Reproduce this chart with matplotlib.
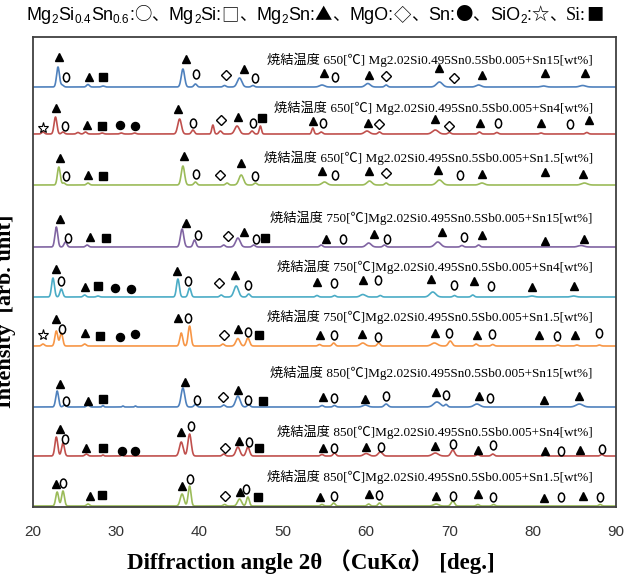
import numpy as np
import matplotlib.pyplot as plt
from matplotlib.path import Path
import matplotlib.transforms as mtrans

plt.rcParams['font.family'] = ['Liberation Serif', 'Noto Sans CJK JP', 'DejaVu Sans']

two_theta = np.linspace(20, 90, 3501)

# one entry per pattern, top to bottom
labels = [
    "焼結温度 650[℃] Mg2.02Si0.495Sn0.5Sb0.005+Sn15[wt%]",
    "焼結温度 650[℃] Mg2.02Si0.495Sn0.5Sb0.005+Sn4[wt%]",
    "焼結温度 650[℃] Mg2.02Si0.495Sn0.5Sb0.005+Sn1.5[wt%]",
    "焼結温度 750[℃]Mg2.02Si0.495Sn0.5Sb0.005+Sn15[wt%]",
    "焼結温度 750[℃]Mg2.02Si0.495Sn0.5Sb0.005+Sn4[wt%]",
    "焼結温度 750[℃]Mg2.02Si0.495Sn0.5Sb0.005+Sn1.5[wt%]",
    "焼結温度 850[℃]Mg2.02Si0.495Sn0.5Sb0.005+Sn15[wt%]",
    "焼結温度 850[℃]Mg2.02Si0.495Sn0.5Sb0.005+Sn4[wt%]",
    "焼結温度 850[℃]Mg2.02Si0.495Sn0.5Sb0.005+Sn1.5[wt%]",
]

# peaks: (2θ, intensity[, width])
peaks_650_sn15 = [(23.0, 20), (23.5, 2), (26.6, 2.5), (28.4, 1), (38.0, 18, 0.2), (39.5, 3),
                  (43.0, 1.5), (44.8, 9, 0.27), (46.4, 1.5), (54.7, 2, 0.3), (60.2, 3.5, 0.3),
                  (62.4, 2), (68.8, 5, 0.35), (73.5, 2, 0.3), (81.3, 1, 0.3), (86.0, 1.5, 0.35)]
peaks_650_sn4 = [(21.2, 2), (22.7, 17), (23.6, 2), (25.4, 1.5), (26.3, 2), (28.3, 1), (30.6, 1),
                 (32.2, 1), (37.6, 15, 0.22), (39.2, 4), (41.6, 9, 0.13), (42.5, 3), (44.5, 8, 0.27),
                 (46.3, 3), (47.3, 8, 0.13), (53.6, 6, 0.13), (54.6, 2), (60.1, 3, 0.3), (61.6, 2),
                 (68.3, 4, 0.35), (70.0, 1.5), (73.6, 2), (75.7, 1.5), (81.0, 1), (86.5, 1.5)]
peaks_650_sn1_5 = [(23.1, 18), (23.7, 2), (26.6, 2), (38.0, 19, 0.2), (39.5, 3), (43.3, 2),
                   (45.0, 10, 0.27), (46.7, 2), (55.0, 3, 0.3), (60.4, 4, 0.3), (62.4, 2),
                   (68.8, 5, 0.35), (73.9, 2, 0.3), (86.2, 2, 0.35)]
peaks_750_sn15 = [(22.8, 20), (23.9, 5), (26.5, 2), (37.9, 18, 0.2), (39.4, 7), (42.9, 2),
                  (44.6, 9, 0.27), (46.5, 2), (54.6, 2), (60.3, 4, 0.3), (62.2, 2), (68.6, 5, 0.35),
                  (71.5, 1.5), (73.5, 2), (85.8, 1.5, 0.35)]
peaks_750_sn4 = [(22.4, 19), (23.4, 8), (26.2, 2), (27.8, 1), (37.4, 18), (38.8, 9), (42.6, 2),
                 (44.4, 11, 0.27), (45.9, 3), (54.1, 1.5), (56.2, 1.5), (59.6, 2.5, 0.3), (61.7, 1.5),
                 (68.0, 5, 0.35), (70.6, 1.5), (72.8, 2), (79.9, 1, 0.3), (84.9, 1, 0.3)]
peaks_750_sn1_5 = [(21.2, 2), (22.8, 15), (23.4, 13), (26.2, 2), (37.8, 13), (38.8, 20), (42.8, 2),
                   (44.6, 7.5, 0.24), (45.8, 8, 0.2), (54.4, 1.5), (56.1, 3), (59.6, 3, 0.3),
                   (61.5, 3), (68.2, 3, 0.35), (70.1, 5, 0.22), (73.2, 2), (75.2, 1.5), (83.0, 1),
                   (85.3, 1), (88.0, 1)]
peaks_850_sn15 = [(22.9, 16), (23.8, 2), (26.6, 2), (28.4, 1.5, 0.1), (30.8, 1, 0.1), (32.3, 1, 0.1),
                  (38.0, 19, 0.22), (39.5, 2.5), (42.9, 2), (44.6, 11, 0.27), (45.9, 2.5), (54.7, 1.5),
                  (56.2, 1.5), (59.9, 2, 0.3), (62.4, 3, 0.22), (68.5, 5, 0.4), (69.6, 2.5),
                  (73.3, 3, 0.35), (85.6, 3, 0.4)]
peaks_850_sn4 = [(22.8, 19), (23.6, 13), (26.4, 2), (28.4, 1, 0.1), (30.7, 1, 0.1), (37.8, 14, 0.22),
                 (38.8, 22, 0.2), (42.9, 2), (44.6, 9, 0.24), (45.8, 9, 0.2), (54.7, 1.5), (56.2, 3),
                 (60.0, 2.5, 0.3), (61.7, 4, 0.25), (68.3, 3, 0.35), (70.4, 6, 0.22), (73.4, 1.5),
                 (75.2, 2), (81.5, 1), (88.3, 1.5)]
peaks_850_sn1_5 = [(22.9, 14), (23.6, 15), (26.6, 2), (37.9, 12, 0.22), (38.8, 20, 0.17), (43.0, 1.5),
                   (44.8, 7, 0.24), (45.8, 9, 0.17), (54.7, 1.5), (56.1, 3), (60.3, 2), (61.6, 3),
                   (68.4, 2, 0.3), (70.4, 5, 0.2), (73.4, 1.5), (75.3, 1.5), (88.1, 1.5)]

# phase marks: (phase, 2θ, height above baseline)
marks_650_sn15 = [("tri", 23.1, 30), ("circ", 24.0, 10), ("tri", 26.7, 10), ("sq", 28.4, 10),
                  ("tri", 38.4, 28), ("circ", 39.6, 13), ("dia", 43.2, 12), ("tri", 45.3, 18),
                  ("circ", 46.6, 9), ("tri", 54.9, 14), ("circ", 56.3, 10), ("tri", 60.3, 12),
                  ("dia", 62.4, 11), ("tri", 68.8, 19), ("dia", 70.5, 9), ("tri", 73.9, 12),
                  ("tri", 81.5, 14), ("tri", 86.3, 14)]
marks_650_sn4 = [("star", 21.2, 6), ("tri", 22.8, 26), ("circ", 23.8, 8), ("tri", 26.5, 9),
                 ("sq", 28.3, 8), ("dot", 30.5, 9), ("dot", 32.2, 8), ("tri", 37.4, 25),
                 ("circ", 39.2, 11), ("dia", 42.6, 14), ("tri", 44.6, 17), ("circ", 46.4, 11),
                 ("sq", 47.5, 16), ("tri", 53.6, 13), ("circ", 54.8, 11), ("tri", 60.2, 11),
                 ("dia", 61.5, 10), ("tri", 68.3, 15), ("dia", 69.9, 8), ("tri", 73.7, 11),
                 ("circ", 75.8, 11), ("tri", 81.0, 11), ("circ", 84.5, 10), ("tri", 86.8, 14)]
marks_650_sn1_5 = [("tri", 23.2, 27), ("circ", 24.0, 9), ("tri", 26.6, 10), ("sq", 28.4, 9),
                   ("tri", 38.1, 29), ("circ", 39.6, 11), ("dia", 42.5, 10), ("tri", 45.0, 22),
                   ("circ", 46.6, 9), ("tri", 54.7, 14), ("circ", 56.3, 10), ("tri", 60.3, 14),
                   ("dia", 62.4, 12), ("tri", 68.6, 15), ("circ", 71.3, 10), ("tri", 73.9, 11),
                   ("tri", 81.5, 13), ("tri", 86.0, 11)]
marks_750_sn15 = [("tri", 23.2, 28), ("circ", 24.2, 9), ("tri", 26.9, 10), ("sq", 28.8, 9),
                  ("tri", 38.4, 24), ("circ", 39.8, 12), ("dia", 43.4, 11), ("tri", 45.3, 15),
                  ("circ", 46.8, 8), ("sq", 47.9, 9), ("tri", 55.2, 8), ("circ", 57.2, 8),
                  ("tri", 60.9, 13), ("circ", 62.5, 8), ("tri", 69.1, 15), ("circ", 71.7, 10),
                  ("tri", 73.9, 12), ("tri", 81.5, 6), ("tri", 86.1, 8)]
marks_750_sn4 = [("tri", 22.8, 28), ("circ", 23.4, 16), ("tri", 26.2, 10), ("sq", 27.8, 11),
                 ("dot", 29.8, 9), ("dot", 31.8, 8), ("tri", 37.3, 26), ("circ", 38.6, 16),
                 ("dia", 42.3, 14), ("tri", 44.2, 22), ("circ", 45.8, 12), ("tri", 54.1, 15),
                 ("circ", 56.1, 14), ("tri", 59.6, 17), ("circ", 61.4, 17), ("tri", 67.8, 18),
                 ("circ", 70.6, 12), ("tri", 72.9, 16), ("circ", 75.0, 11), ("tri", 79.9, 10),
                 ("tri", 84.9, 11)]
marks_750_sn1_5 = [("star", 21.2, 11), ("tri", 22.8, 27), ("circ", 23.5, 17), ("tri", 26.2, 13),
                   ("sq", 28.1, 10), ("dot", 30.4, 9), ("dot", 32.2, 12), ("tri", 37.4, 28),
                   ("circ", 38.6, 28), ("dia", 42.9, 11), ("tri", 44.6, 17), ("circ", 45.8, 14),
                   ("sq", 47.1, 11), ("tri", 54.4, 11), ("circ", 56.1, 11), ("tri", 59.5, 12),
                   ("circ", 61.4, 9), ("tri", 68.3, 13), ("circ", 70.0, 13), ("tri", 73.3, 11),
                   ("circ", 75.1, 12), ("tri", 80.7, 11), ("circ", 82.9, 10), ("tri", 85.1, 11),
                   ("circ", 88.0, 13)]
marks_850_sn15 = [("tri", 23.2, 23), ("circ", 24.0, 6), ("tri", 26.6, 6), ("sq", 28.4, 8),
                  ("tri", 38.2, 25), ("circ", 39.7, 7), ("dia", 42.8, 10), ("tri", 44.6, 17),
                  ("circ", 45.8, 7), ("sq", 47.6, 6), ("tri", 54.8, 10), ("circ", 56.1, 9),
                  ("tri", 59.9, 8), ("circ", 62.4, 11), ("tri", 68.4, 15), ("circ", 69.6, 12),
                  ("tri", 73.5, 11), ("circ", 74.9, 9), ("tri", 81.3, 7), ("tri", 85.5, 11)]
marks_850_sn4 = [("tri", 23.2, 27), ("circ", 23.8, 17), ("tri", 26.4, 8), ("sq", 28.4, 8),
                 ("dot", 30.7, 5), ("dot", 32.2, 5), ("tri", 37.8, 24), ("circ", 39.0, 30),
                 ("dia", 43.0, 8), ("tri", 44.7, 15), ("circ", 45.9, 14), ("sq", 47.1, 8),
                 ("tri", 54.8, 8), ("circ", 56.2, 8), ("tri", 60.0, 9), ("circ", 61.8, 9),
                 ("tri", 68.3, 10), ("circ", 70.4, 12), ("tri", 73.4, 6), ("circ", 75.2, 11),
                 ("tri", 81.5, 5), ("circ", 83.4, 5), ("tri", 85.7, 6), ("circ", 88.3, 7)]
marks_850_sn1_5 = [("tri", 22.8, 22), ("circ", 23.6, 23), ("tri", 26.8, 10), ("sq", 28.3, 11),
                   ("tri", 37.9, 20), ("circ", 38.8, 27), ("dia", 43.0, 10), ("tri", 44.8, 14),
                   ("circ", 45.6, 17), ("sq", 47.0, 9), ("tri", 54.5, 9), ("circ", 56.1, 10),
                   ("tri", 60.3, 12), ("circ", 61.5, 11), ("tri", 68.4, 10), ("circ", 70.4, 10),
                   ("tri", 73.4, 12), ("circ", 75.2, 9), ("tri", 81.4, 8), ("circ", 83.4, 9),
                   ("tri", 86.0, 10), ("circ", 88.1, 9)]

peak_sets = [peaks_650_sn15, peaks_650_sn4, peaks_650_sn1_5, peaks_750_sn15, peaks_750_sn4,
             peaks_750_sn1_5, peaks_850_sn15, peaks_850_sn4, peaks_850_sn1_5]
mark_sets = [marks_650_sn15, marks_650_sn4, marks_650_sn1_5, marks_750_sn15, marks_750_sn4,
             marks_750_sn1_5, marks_850_sn15, marks_850_sn4, marks_850_sn1_5]

# phase key shown above the chart: (text, kind) - kind: n normal, s subscript, g glyph, m serif
key_parts = [("Mg", "n"), ("2", "s"), ("Si", "n"), ("0.4", "s"), ("Sn", "n"), ("0.6", "s"),
             (":", "n"), ("○", "g"), ("、", "g"),
             ("Mg", "n"), ("2", "s"), ("Si:", "n"), ("□", "g"), ("、", "g"),
             ("Mg", "n"), ("2", "s"), ("Sn:", "n"), ("▲", "g"), ("、", "g"),
             ("MgO:", "n"), ("◇", "g"), ("、", "g"),
             ("Sn:", "n"), ("●", "g"), ("、", "g"),
             ("SiO", "n"), ("2", "s"), (":", "n"), ("☆", "g"), ("、", "g"),
             ("Si:", "m"), ("■", "g")]

# layout
offsets = [420, 373, 322, 260, 210, 161, 100, 51, 1]
label_lift = [27, 26, 27, 29, 30, 29, 34, 24, 29]
colors = ["#4f81bd", "#c0504d", "#9bbb59", "#8064a2", "#4bacc6", "#f79646",
          "#4f81bd", "#c0504d", "#9bbb59"]

ellipse = Path.unit_circle().transformed(mtrans.Affine2D().scale(0.7, 1.0))
mark_style = {
    "tri": dict(marker="^", ms=6.4, mfc="black", mec="black"),
    "circ": dict(marker=ellipse, ms=6.4, mfc="none", mec="black", mew=1.1),
    "sq": dict(marker="s", ms=5.2, mfc="black", mec="black"),
    "dia": dict(marker="D", ms=5.0, mfc="none", mec="black", mew=1.0),
    "dot": dict(marker="o", ms=5.8, mfc="black", mec="black"),
    "star": dict(marker="*", ms=8.0, mfc="none", mec="black", mew=0.8),
}
key_font = {
    "n": dict(family=["Liberation Sans"], fontsize=13, dy=0),
    "s": dict(family=["Liberation Sans"], fontsize=8.5, dy=-3),
    "g": dict(family=["Noto Sans CJK JP", "DejaVu Sans"], fontsize=12.5, dy=0),
    "m": dict(family=["Liberation Serif"], fontsize=13, dy=0),
}


def pattern(peaks):
    y = np.zeros_like(two_theta)
    for p in peaks:
        w = p[2] if len(p) > 2 else 0.17
        y += p[1] * np.exp(-0.5 * ((two_theta - p[0]) / w) ** 2)
    return y


fig = plt.figure(figsize=(6.3, 5.78), dpi=100)
ax = fig.add_axes([33 / 630, 1 - 507 / 578, 583 / 630, 470 / 578])

for i in range(len(labels)):
    base = offsets[i]
    ax.plot(two_theta, base + pattern(peak_sets[i]), color=colors[i], lw=1.2)
    for kind, x, h in mark_sets[i]:
        ax.plot(x, base + h, ls="none", **mark_style[kind])
    ax.text(87.2, base + label_lift[i], labels[i], ha="right", va="center", fontsize=9.5)

ax.set_xlim(20, 90)
ax.set_ylim(0, 470)
ax.set_xticks(range(20, 91, 10))
ax.set_yticks([])
ax.tick_params(axis="x", length=0, pad=13, labelsize=11, labelcolor="#333333")
for lab in ax.get_xticklabels():
    lab.set_family(["Liberation Sans"])
for sp in ax.spines.values():
    sp.set_color("#404040")
    sp.set_linewidth(1.3)

fig.text(311 / 630, 1 - 562 / 578, "Diffraction angle 2θ （CuKα） [deg.]",
         ha="center", va="center", fontsize=16.5, fontweight="bold")
fig.text(16 / 630, 1 - 311 / 578, "Intensity  [arb. unit]", rotation=90,
         ha="right", va="center", fontsize=16, fontweight="bold")

# phase key: lay the pieces side by side, then centre the row
renderer = fig.canvas.get_renderer()
key_texts = []
for s, kind in key_parts:
    f = key_font[kind]
    t = fig.text(0, 0, s, family=f["family"], fontsize=f["fontsize"], va="baseline", ha="left")
    key_texts.append((t, f["dy"], t.get_window_extent(renderer).width))
total = sum(w for _, _, w in key_texts)
x_px = (630 - total) / 2
base_px = 578 - 20
for t, dy, w in key_texts:
    t.set_position((x_px / 630, (base_px + dy) / 578))
    x_px += w

fig.savefig("out.png", dpi=100)
